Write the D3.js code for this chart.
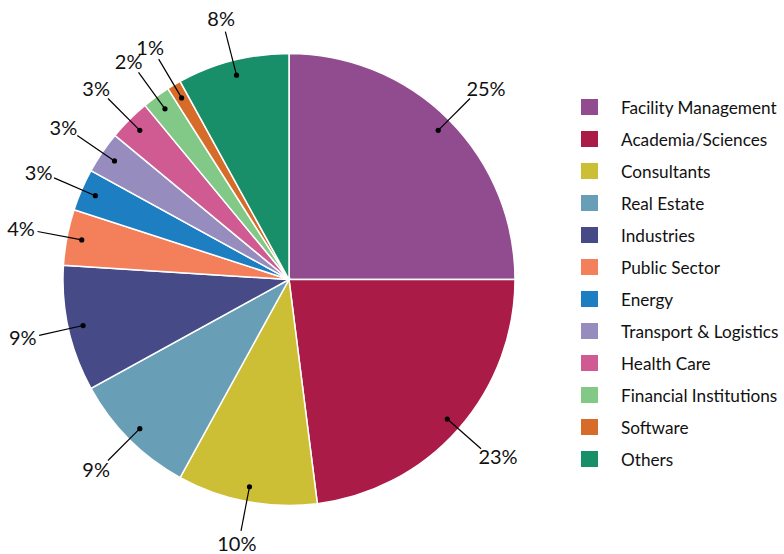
<!DOCTYPE html>
<html>
<head>
<meta charset="utf-8">
<script src="https://cdn.jsdelivr.net/npm/d3@7"></script>
<style>
  body { margin: 0; background: #fff; }
  text { font-family: Lato, "Open Sans", sans-serif; fill: #111; }
</style>
</head>
<body>
<svg id="drawing_region"></svg>
<script>
// chart data
const categories = ["Facility Management", "Academia/Sciences", "Consultants", "Real Estate",
    "Industries", "Public Sector", "Energy", "Transport & Logistics", "Health Care",
    "Financial Institutions", "Software", "Others"];
const shares = [25, 23, 10, 9, 9, 4, 3, 3, 3, 2, 1, 8];
const colors = ["#904c8e", "#aa1c47", "#cdbf35", "#699fb6", "#464a87", "#f47f5b",
    "#1e7ec2", "#968cbe", "#cf5b92", "#82c886", "#d66b2a", "#188f68"];

const data = categories.map((c, i) => ({ label: c, value: shares[i], color: colors[i] }));

const config = {
    parent: '#drawing_region',
    width: 784,
    height: 554,
    cx: 289,
    cy: 279.5,
    radius: 226
};

const svg = d3.select(config.parent)
    .attr('width', config.width)
    .attr('height', config.height);

const pie = d3.pie()
    .value(d => d.value)
    .sort(null);

const arc = d3.arc()
    .innerRadius(0)
    .outerRadius(config.radius);

// where the leader line starts / ends
const dot_arc = d3.arc().innerRadius(211).outerRadius(211);
const end_arc = d3.arc().innerRadius(256).outerRadius(256);

const chart = svg.append('g')
    .attr('transform', `translate(${config.cx}, ${config.cy})`);

const arcs = pie(data);

chart.selectAll('path')
    .data(arcs)
    .enter()
    .append('path')
    .attr('d', arc)
    .attr('fill', d => d.data.color)
    .attr('stroke', 'white')
    .attr('stroke-width', 1.5);

// labels
const lab = chart.selectAll('.lab')
    .data(arcs)
    .enter()
    .append('g')
    .attr('class', 'lab');

lab.append('line')
    .attr('x1', d => dot_arc.centroid(d)[0])
    .attr('y1', d => dot_arc.centroid(d)[1])
    .attr('x2', d => end_arc.centroid(d)[0])
    .attr('y2', d => end_arc.centroid(d)[1])
    .attr('stroke', '#000')
    .attr('stroke-width', 1.2);

lab.append('circle')
    .attr('cx', d => dot_arc.centroid(d)[0])
    .attr('cy', d => dot_arc.centroid(d)[1])
    .attr('r', 2.6)
    .attr('fill', '#000');

lab.append('text')
    .attr('font-size', '20px')
    .attr('text-anchor', 'middle')
    .attr('dy', '0.35em')
    .text(d => d.data.value + '%')
    .each(function(d) {
        const t = d3.select(this);
        const w = this.getComputedTextLength();
        const h = 14;
        const a = (d.startAngle + d.endAngle) / 2;
        const e = end_arc.centroid(d);
        t.attr('x', e[0] + Math.sin(a) * (w / 2 + 3))
         .attr('y', e[1] - Math.cos(a) * (h / 2 + 6));
    });

// legend
const legend = svg.append('g')
    .attr('transform', 'translate(581, 99)');

const item = legend.selectAll('g')
    .data(data)
    .enter()
    .append('g')
    .attr('transform', (d, i) => `translate(0, ${i * 32})`);

item.append('rect')
    .attr('width', 17)
    .attr('height', 16)
    .attr('fill', d => d.color);

item.append('text')
    .attr('x', 40)
    .attr('y', 15)
    .attr('font-size', '17.2px')
    .text(d => d.label);
</script>
</body>
</html>
